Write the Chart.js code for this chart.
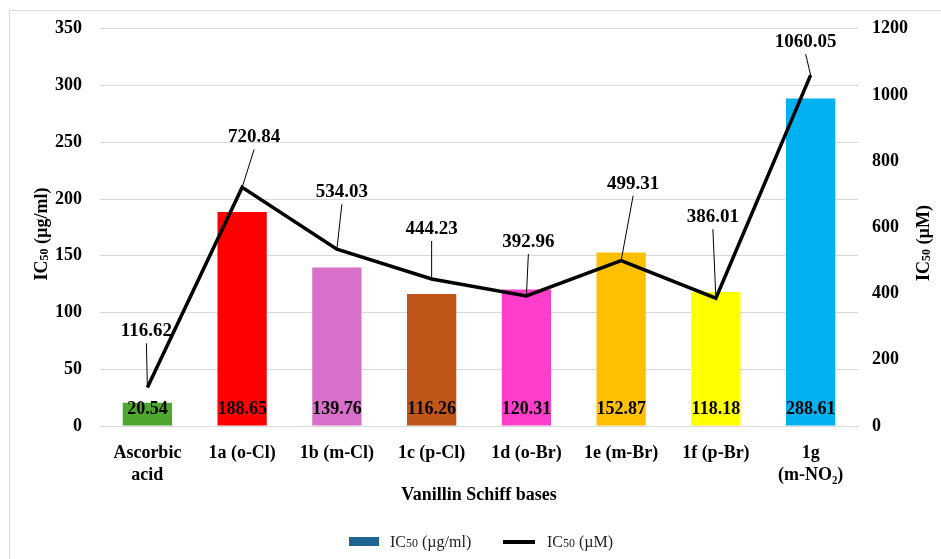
<!DOCTYPE html>
<html>
<head>
<meta charset="utf-8">
<script src="https://cdn.jsdelivr.net/npm/chart.js@4.4.1/dist/chart.umd.min.js"></script>
<style>
  html, body { margin: 0; padding: 0; background: #fff; }
  #wrap { position: relative; width: 941px; height: 559px; overflow: hidden; }
  #frame { position: absolute; left: 9px; top: 10px; width: 1000px; height: 700px;
           border-top: 1px solid #D9D9D9; border-left: 1px solid #D9D9D9; }
  canvas { position: absolute; left: 0; top: 0; }
  #legend { position: absolute; top: 532px; left: 0; width: 941px; height: 20px;
            font-family: "Liberation Serif", serif; font-size: 16px; color: #222; }
  .sw { position: absolute; }
  .lt { position: absolute; top: 0; line-height: 20px; white-space: nowrap; }
  .lt small { font-size: 12px; }
</style>
</head>
<body>
<div id="wrap">
  <div id="frame"></div>
  <canvas id="c" width="941" height="559"></canvas>
  <div id="legend">
    <div class="sw" style="left:349px; top:5px; width:30px; height:9px; background:#1F6390;"></div>
    <div class="lt" style="left:390px;">IC<small>50</small> (µg/ml)</div>
    <div class="sw" style="left:503px; top:8px; width:32px; height:4px; background:#000;"></div>
    <div class="lt" style="left:547px;">IC<small>50</small> (µM)</div>
  </div>
</div>
<script>
const categories = [["Ascorbic", "acid"], "1a (o-Cl)", "1b (m-Cl)", "1c (p-Cl)", "1d (o-Br)", "1e (m-Br)", "1f (p-Br)", ["1g", "(m-NO₂)"]];
const ic50ugml = [20.54, 188.65, 139.76, 116.26, 120.31, 152.87, 118.18, 288.61];
const ic50uM = [116.62, 720.84, 534.03, 444.23, 392.96, 499.31, 386.01, 1060.05];
const barColors = ["#4EA72E", "#FF0000", "#D670C8", "#C0561A", "#FF3DCB", "#FFC000", "#FFFF00", "#00B0F0"];
// label placement (style): offset of the line label from its point, in px
const lineLabelOffsets = [[-1, -56], [12, -50], [5, -57], [0, -50], [2, -54], [12, -77], [-3, -81], [-5, -33]];
const leftTitle = ["IC", "50", " (µg/ml)"];
const rightTitle = ["IC", "50", " (µM)"];

const FAM = "'Liberation Serif', 'Times New Roman', serif";
const serifBold = { family: FAM, weight: "bold", size: 18 };

function drawSubTitle(ctx, parts, cx, cy) {
  const big = "bold 18px " + FAM, small = "bold 12px " + FAM;
  ctx.save();
  ctx.translate(cx, cy);
  ctx.rotate(-Math.PI / 2);
  ctx.textBaseline = "middle";
  ctx.textAlign = "left";
  ctx.fillStyle = "#000";
  ctx.font = big; const w0 = ctx.measureText(parts[0]).width;
  ctx.font = small; const w1 = ctx.measureText(parts[1]).width;
  ctx.font = big; const w2 = ctx.measureText(parts[2]).width;
  let x = -(w0 + w1 + w2) / 2;
  ctx.font = big; ctx.fillText(parts[0], x, 0); x += w0;
  ctx.font = small; ctx.fillText(parts[1], x, 3); x += w1;
  ctx.font = big; ctx.fillText(parts[2], x, 0);
  ctx.restore();
}

const labelPlugin = {
  id: "labels",
  afterDraw(chart) {
    const ctx = chart.ctx;
    const area = chart.chartArea;
    const barMeta = chart.getDatasetMeta(0);
    const lineMeta = chart.getDatasetMeta(1);
    ctx.save();
    ctx.fillStyle = "#000";
    ctx.textAlign = "center";
    ctx.textBaseline = "middle";
    ctx.font = "bold 18px " + FAM;
    barMeta.data.forEach((bar, i) => {
      ctx.fillText(ic50ugml[i].toFixed(2), bar.x, area.bottom - 17);
    });
    ctx.font = "bold 19px " + FAM;
    lineMeta.data.forEach((pt, i) => {
      const [dx, dy] = lineLabelOffsets[i];
      const lx = pt.x + dx, ly = pt.y + dy;
      const tx = lx, ty = ly + 12;
      if (Math.hypot(tx - pt.x, ty - pt.y) > 6) {
        ctx.beginPath();
        ctx.lineWidth = 1;
        ctx.strokeStyle = "#000";
        ctx.moveTo(tx, ty);
        ctx.lineTo(pt.x, pt.y);
        ctx.stroke();
      }
      ctx.fillText(ic50uM[i].toFixed(2), lx, ly);
    });
    ctx.restore();
    drawSubTitle(ctx, leftTitle, 42, 234);
    drawSubTitle(ctx, rightTitle, 924, 243);
  }
};

new Chart(document.getElementById("c"), {
  data: {
    labels: categories,
    datasets: [
      { type: "bar", label: "IC₅₀ (µg/ml)", data: ic50ugml, backgroundColor: barColors,
        yAxisID: "y", order: 2, categoryPercentage: 1.0, barPercentage: 0.52 },
      { type: "line", label: "IC₅₀ (µM)", data: ic50uM, borderColor: "#000", borderWidth: 3.5,
        pointRadius: 0, tension: 0, yAxisID: "y1", order: 1, borderJoinStyle: "miter" }
    ]
  },
  options: {
    responsive: false,
    animation: false,
    layout: { padding: { top: 27, left: 0, right: 0, bottom: 0 } },
    plugins: { legend: { display: false }, tooltip: { enabled: false } },
    scales: {
      x: {
        grid: { display: false },
        border: { display: true, color: "#D9D9D9", width: 1 },
        ticks: { color: "#000", font: { ...serifBold, lineHeight: 1.2 }, padding: 9, maxRotation: 0, autoSkip: false },
        title: { display: true, text: "Vanillin Schiff bases", color: "#000", font: serifBold,
                 padding: { top: 0, bottom: 53 } },
        afterFit(s) { s.height = 133; }
      },
      y: {
        position: "left", min: 0, max: 350,
        ticks: { stepSize: 50, color: "#000", font: serifBold, padding: 18 },
        grid: { color: "#D9D9D9", drawTicks: false },
        border: { display: false },
        afterFit(s) { s.width = 100; }
      },
      y1: {
        position: "right", min: 0, max: 1200,
        ticks: { stepSize: 200, color: "#000", font: serifBold, padding: 14,
                 callback: (v) => String(v) },
        grid: { display: false, drawTicks: false },
        border: { display: false },
        afterFit(s) { s.width = 83; }
      }
    }
  },
  plugins: [labelPlugin]
});
</script>
</body>
</html>
